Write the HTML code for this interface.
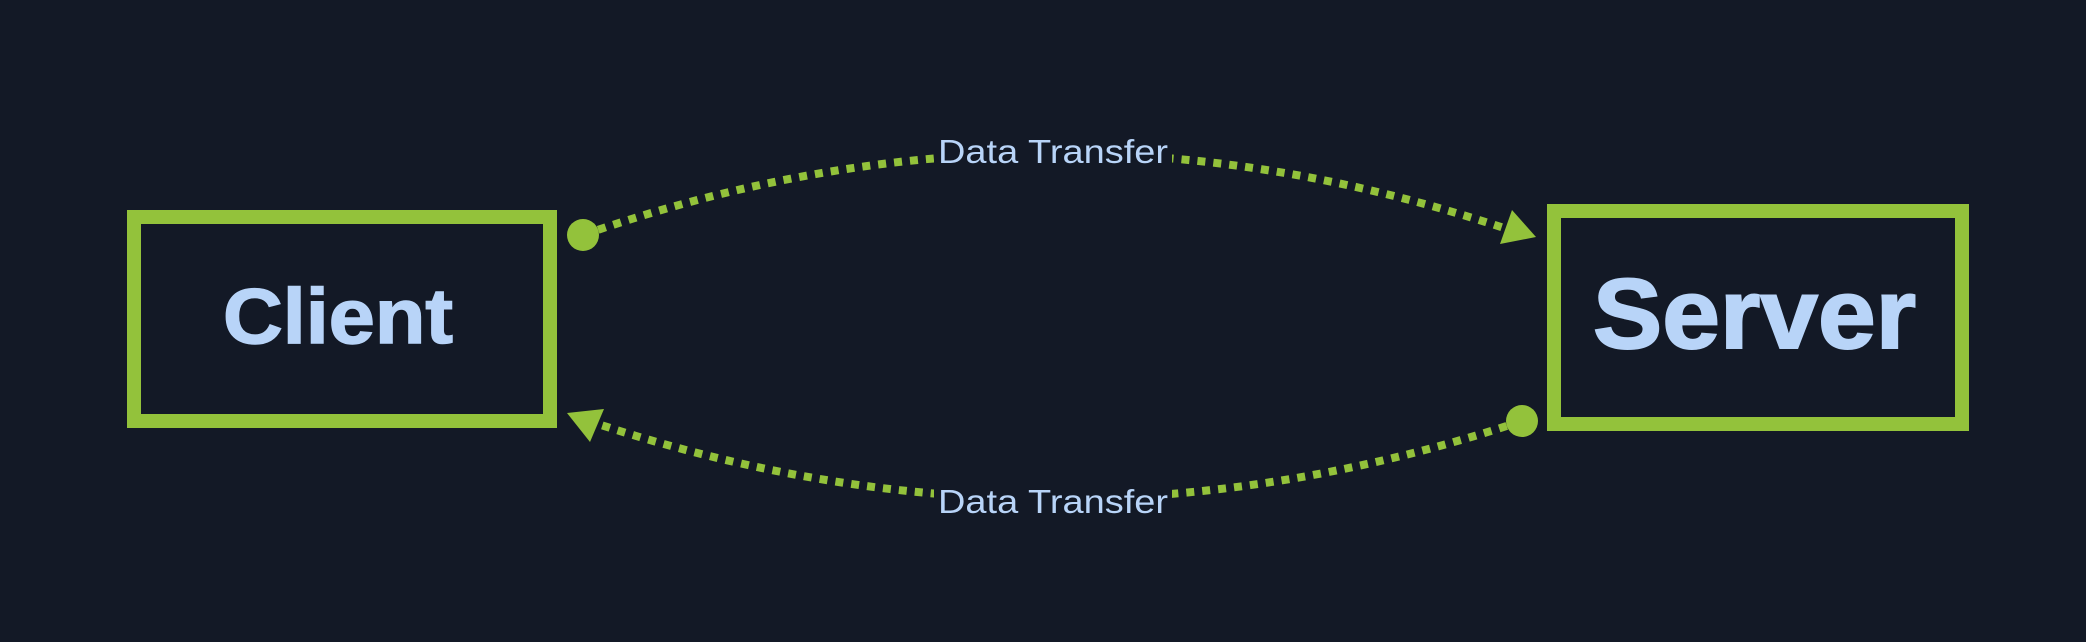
<!DOCTYPE html>
<html><head><meta charset="utf-8"><style>
html,body{margin:0;padding:0;background:#131926;}
svg{display:block}
</style></head><body>
<svg width="2086" height="642" viewBox="0 0 2086 642" xmlns="http://www.w3.org/2000/svg">
<rect width="2086" height="642" fill="#131926"/>
<rect x="134" y="217" width="416" height="204" fill="none" stroke="#93c23b" stroke-width="14"/>
<rect x="1554" y="211" width="408" height="213" fill="none" stroke="#93c23b" stroke-width="14"/>
<text x="223" y="343" textLength="230" lengthAdjust="spacingAndGlyphs" font-family="Liberation Sans, sans-serif" font-weight="bold" font-size="78" fill="#b8d4f8" stroke="#b8d4f8" stroke-width="1.5">Client</text>
<text x="1593" y="348" textLength="323" lengthAdjust="spacingAndGlyphs" font-family="Liberation Sans, sans-serif" font-weight="bold" font-size="99" fill="#b8d4f8" stroke="#b8d4f8" stroke-width="2">Server</text>
<path d="M583 235 Q1045 74 1510 230" fill="none" stroke="#93c23b" stroke-width="8" stroke-dasharray="8 8"/>
<path d="M1522 421 Q1059 575 598 424" fill="none" stroke="#93c23b" stroke-width="8" stroke-dasharray="8 8"/>
<rect x="934" y="130" width="238" height="42" fill="#131926"/>
<rect x="934" y="480" width="238" height="42" fill="#131926"/>
<circle cx="583" cy="235" r="16" fill="#93c23b"/>
<circle cx="1522" cy="421" r="16" fill="#93c23b"/>
<polygon points="1536,237 1512,210 1500,244" fill="#93c23b"/>
<polygon points="567,413 604,409 590,442" fill="#93c23b"/>
<text x="938" y="163" textLength="230" lengthAdjust="spacingAndGlyphs" font-family="Liberation Sans, sans-serif" font-size="33" fill="#b8d4f8">Data Transfer</text>
<text x="938" y="513" textLength="230" lengthAdjust="spacingAndGlyphs" font-family="Liberation Sans, sans-serif" font-size="33" fill="#b8d4f8">Data Transfer</text>
</svg>
</body></html>
